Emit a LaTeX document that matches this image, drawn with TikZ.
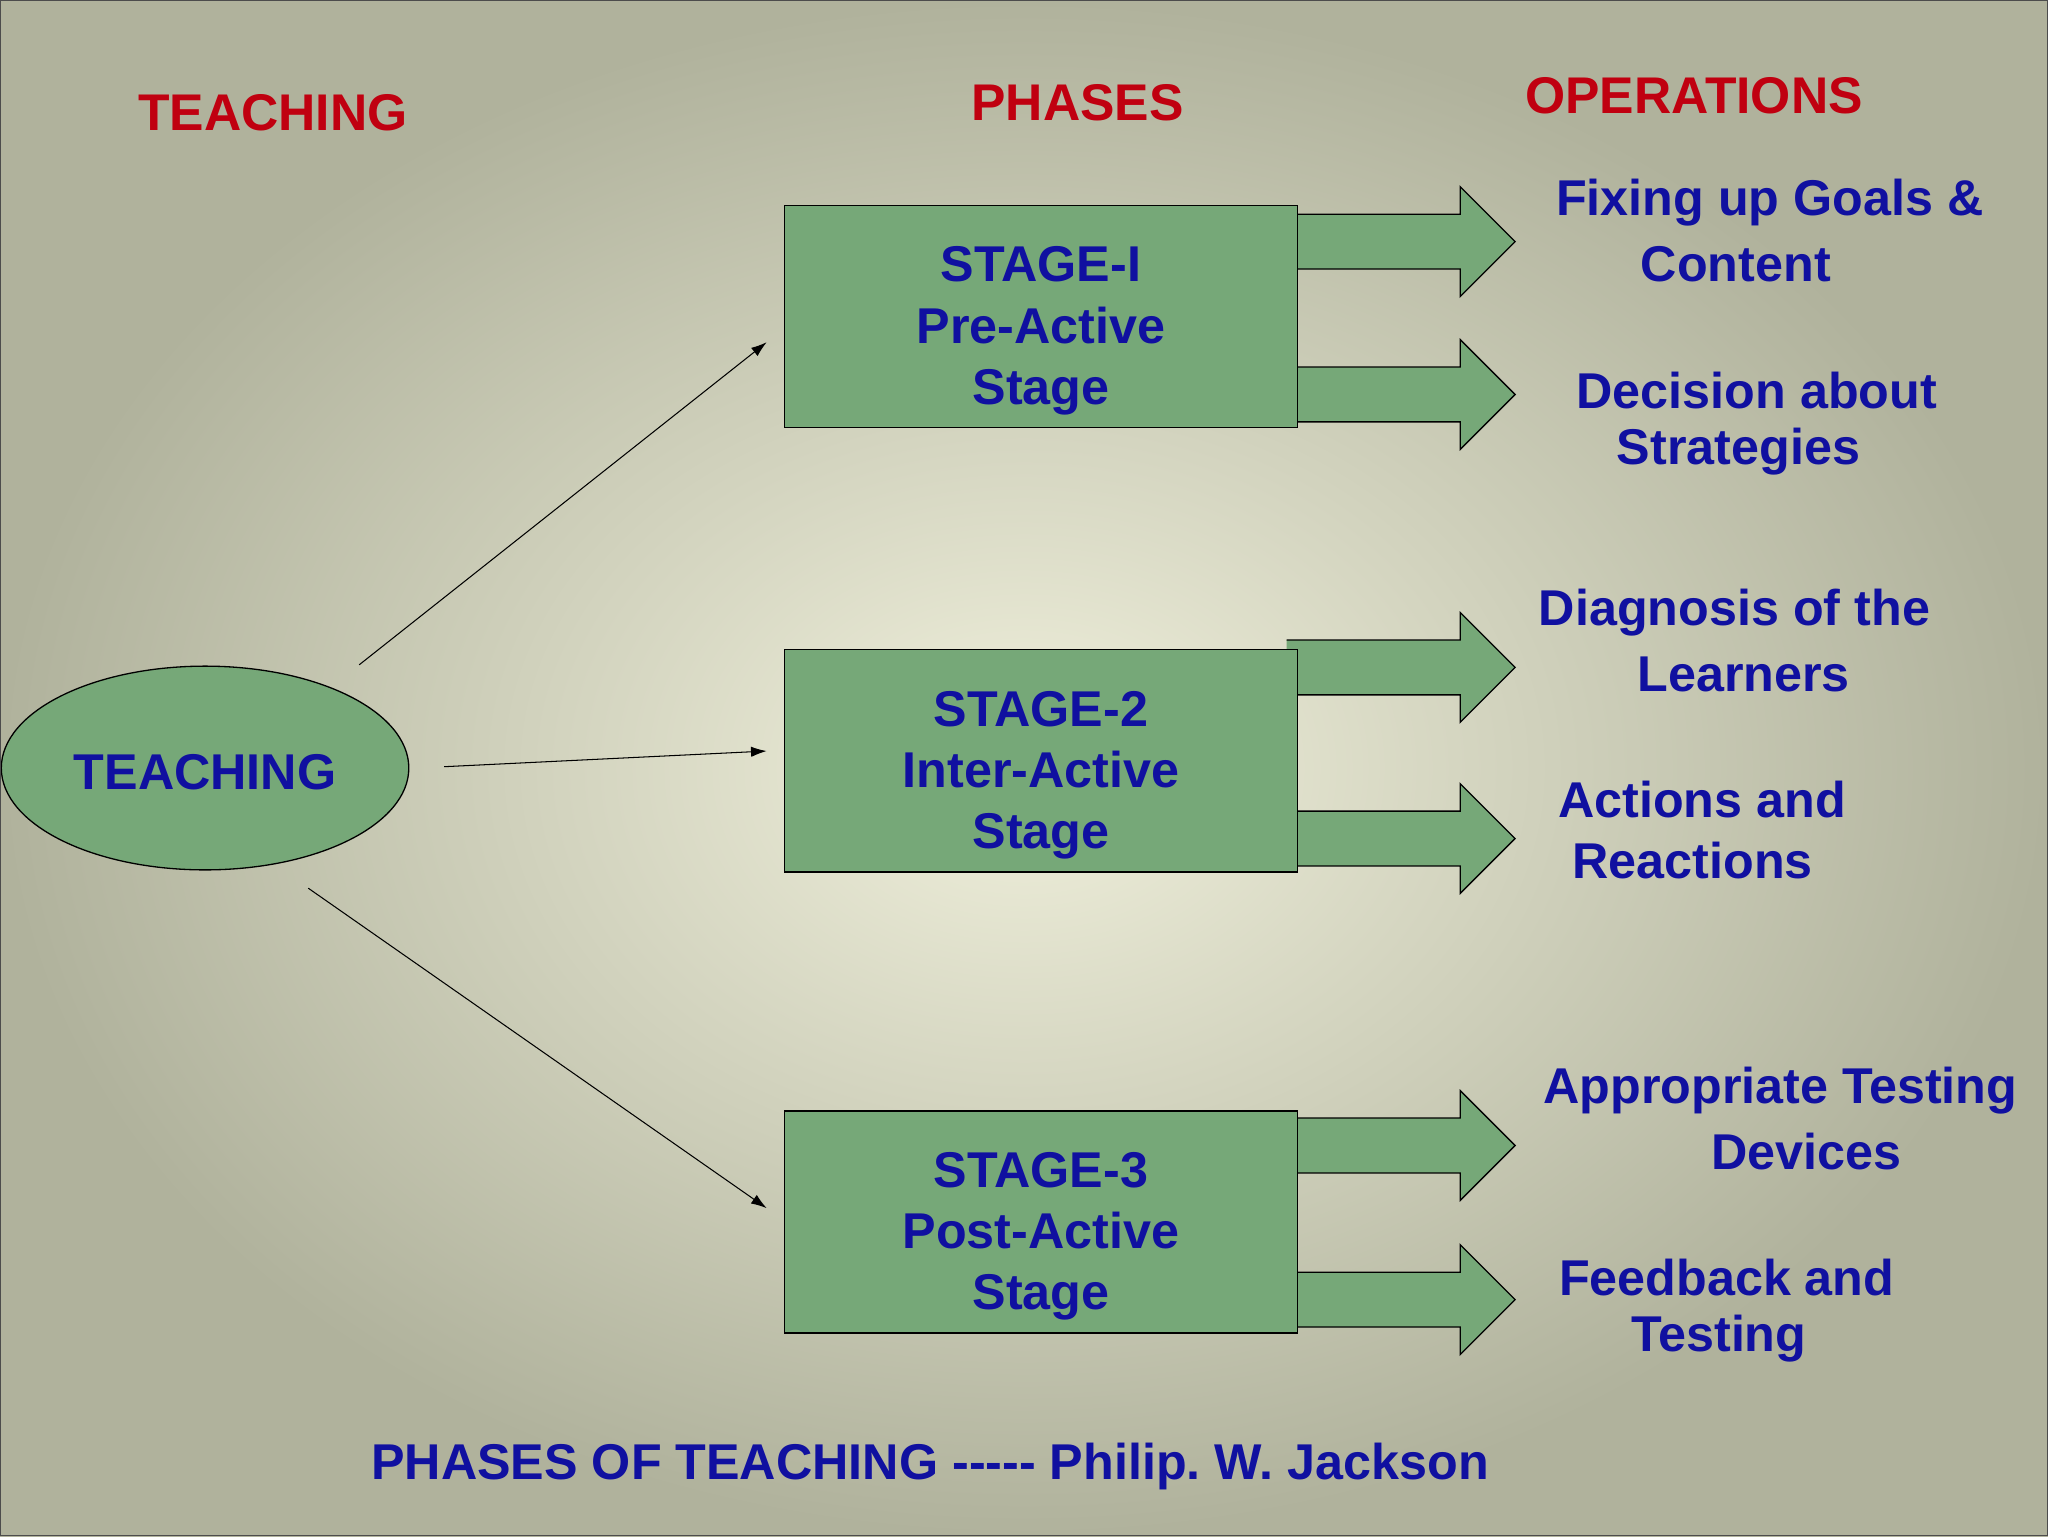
\documentclass[tikz,border=0pt]{standalone}
\usepackage{fontspec}
\setmainfont{Liberation Sans}
\usetikzlibrary{shapes.geometric,arrows.meta}
\definecolor{boxg}{HTML}{76A878}
\definecolor{tblue}{HTML}{1010A0}
\definecolor{tred}{HTML}{C00010}
\definecolor{bgin}{HTML}{F0F0DC}
\definecolor{bgout}{HTML}{B0B29C}
\frenchspacing
\begin{document}
\begin{tikzpicture}[x=1pt,y=-1pt,
  hdr/.style={text=tred,font=\bfseries\fontsize{39.5}{44}\selectfont},
  txt/.style={text=tblue,font=\bfseries\fontsize{38.5}{47}\selectfont,align=center},
  stagebox/.style={draw=black,fill=boxg,line width=1pt,minimum width=393pt,minimum height=170pt,anchor=north west,inner sep=0pt},
  conn/.style={-{Latex[length=12pt,width=8pt]},line width=0.8pt}]
\shade[inner color=bgin, outer color=bgout] (0,0) rectangle (1568,1176);
\useasboundingbox (0,0) rectangle (1568,1176);
\node[hdr] (h1) at (209,86) {TEACHING};
\node[hdr] (h2) at (825,79) {PHASES};
\node[hdr] (h3) at (1297,73) {OPERATIONS};
\node[draw=black,fill=boxg,ellipse,line width=1pt,minimum width=312pt,minimum height=156pt] (t) at (157,588) {};
\node[txt] at (157,591) {TEACHING};
\foreach \y in {185,302,511,642,877,995}{
  \draw[fill=boxg,line width=1pt] (985,\y-21) -- (1118,\y-21) -- (1118,\y-42) -- (1160,\y) -- (1118,\y+42) -- (1118,\y+21) -- (985,\y+21);
}
\node[stagebox] (s1) at (600,157) {};
\node[stagebox] (s2) at (600,497) {};
\node[stagebox] (s3) at (600,850) {};
\node[txt] at ([yshift=-11pt]s1) {STAGE-I\\Pre-Active\\Stage};
\node[txt] at ([yshift=-11pt]s2) {STAGE-2\\Inter-Active\\Stage};
\node[txt] at ([yshift=-11pt]s3) {STAGE-3\\Post-Active\\Stage};
\coordinate (a1) at (587,262);
\coordinate (a2) at (587,575);
\coordinate (a3) at (587,925);
\draw[conn] (275,509) -- (a1);
\draw[conn] (340,587) -- (a2);
\draw[conn] (236,680) -- (a3);
\begin{scope}[yshift=-3pt]
\node[txt] at (1355,152) {Fixing up Goals \&};
\node[txt] at (1329,199) {Content};
\node[txt] at (1345,296) {Decision about};
\node[txt] at (1331,343) {Strategies};
\node[txt] at (1328,466) {Diagnosis of the};
\node[txt] at (1335,513) {Learners};
\node[txt] at (1303,609) {Actions and};
\node[txt] at (1296,656) {Reactions};
\node[txt] at (1363,832) {Appropriate Testing};
\node[txt] at (1383,879) {Devices};
\node[txt] at (1322,975) {Feedback and};
\node[txt] at (1316,1022) {Testing};
\node[txt] (foot) at (712,1120) {PHASES OF TEACHING {-}{-}{-}{-}{-} Philip. W. Jackson};
\end{scope}
\draw[black!70,line width=1pt] (0.5,0.5) rectangle (1567.5,1175.5);
\end{tikzpicture}
\end{document}
